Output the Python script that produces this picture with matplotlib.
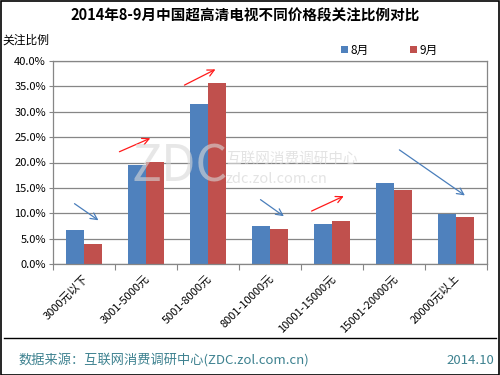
import numpy as np
import matplotlib
matplotlib.use("Agg")
import matplotlib.pyplot as plt
from matplotlib.patches import Rectangle

plt.rcParams['font.family'] = ['Noto Sans CJK SC', 'DejaVu Sans']

# dati
categorie = ['3000元以下', '3001-5000元', '5001-8000元', '8001-10000元',
             '10001-15000元', '15001-20000元', '20000元以上']
agosto = [6.7, 19.5, 31.6, 7.5, 7.9, 16.0, 9.8]
settembre = [4.0, 20.1, 35.7, 6.9, 8.5, 14.6, 9.3]
serie = ['8月', '9月']
# frecce (x0, y0, x1, y1, colore)
frecce = [(-0.19, 12.2, 0.27, 8.3, 'blue'),
          (0.53, 21.9, 1.11, 25.0, 'red'),
          (1.58, 35.0, 2.16, 38.6, 'red'),
          (2.81, 13.0, 3.26, 9.1, 'blue'),
          (3.63, 10.2, 4.23, 13.6, 'red'),
          (5.05, 22.8, 6.18, 13.2, 'blue')]

blu = '#4f81bd'
rosso = '#c0504d'
grigio = '#868686'

fig = plt.figure(figsize=(5, 3.75), dpi=100)
ax = fig.add_axes([53/500, 1 - 264/375, 434/500, 203/375])

x = np.arange(len(categorie))
w = 0.29
ax.bar(x - w/2, agosto, w, color=blu, label=serie[0], zorder=2)
ax.bar(x + w/2, settembre, w, color=rosso, label=serie[1], zorder=2)

ax.set_xlim(-0.5, len(categorie) - 0.5)
ax.set_ylim(0, 40)
ax.set_yticks(np.arange(0, 41, 5))
ax.set_yticklabels([f'{v:.1f}%' for v in np.arange(0, 41, 5)], fontsize=8)
ax.yaxis.grid(True, color=grigio, lw=0.9, zorder=0)
ax.set_axisbelow(True)
for s in ax.spines.values():
    s.set_color(grigio)
    s.set_linewidth(0.9)

ax.set_xticks(np.arange(-0.5, len(categorie)), minor=False)
ax.set_xticklabels([])
ax.tick_params(axis='x', length=4, color=grigio)
ax.tick_params(axis='y', length=3, color=grigio, pad=2)
for i, c in enumerate(categorie):
    ax.text(i - 0.02, -1.8, c, rotation=45, ha='right', va='top',
            fontsize=8, rotation_mode='anchor')

colori = {'blue': '#4a7ebb', 'red': '#ff1a1a'}
for x0, y0, x1, y1, c in frecce:
    ax.annotate('', xy=(x1, y1), xytext=(x0, y0),
                arrowprops=dict(arrowstyle='->', color=colori[c], lw=0.9,
                                mutation_scale=12), zorder=5)

# watermark
fig.text(132/500, 1 - 168/375, 'ZDC', fontsize=36, color='#d8d8d8',
         alpha=0.6, va='center', zorder=10)
fig.text(226/500, 1 - 159/375, '互联网消费调研中心', fontsize=10.5,
         color='#d8d8d8', alpha=0.7, va='center', zorder=10)
fig.text(226/500, 1 - 179/375, 'zdc.zol.com.cn', fontsize=10.5,
         color='#d8d8d8', alpha=0.7, va='center', zorder=10)

fig.text(0.49, 1 - 16/375, '2014年8-9月中国超高清电视不同价格段关注比例对比',
         ha='center', va='center', fontsize=10.5, fontweight='bold')
fig.text(2/500, 1 - 40/375, '关注比例', ha='left', va='center', fontsize=8.5)

ax.legend(loc='upper left', bbox_to_anchor=(335/500, 1 - 38/375),
          bbox_transform=fig.transFigure, ncol=2, frameon=False,
          fontsize=8.5, handlelength=0.6, handleheight=0.6,
          handletextpad=0.2, columnspacing=3.5, borderpad=0)

fig.add_artist(plt.Line2D([4/500, 496/500], [1 - 338/375, 1 - 338/375],
                          color='black', lw=1))
fig.text(18/500, 1 - 360/375, '数据来源：互联网消费调研中心(ZDC.zol.com.cn)',
         ha='left', va='center', fontsize=9.5, color='#3e8290')
fig.text(494/500, 1 - 360/375, '2014.10', ha='right', va='center',
         fontsize=9.5, color='#3e8290')

fig.add_artist(Rectangle((0.001, 0.001), 0.997, 0.997, transform=fig.transFigure,
                         fill=False, edgecolor='black', lw=1.2))

fig.savefig('out.png', dpi=100)
